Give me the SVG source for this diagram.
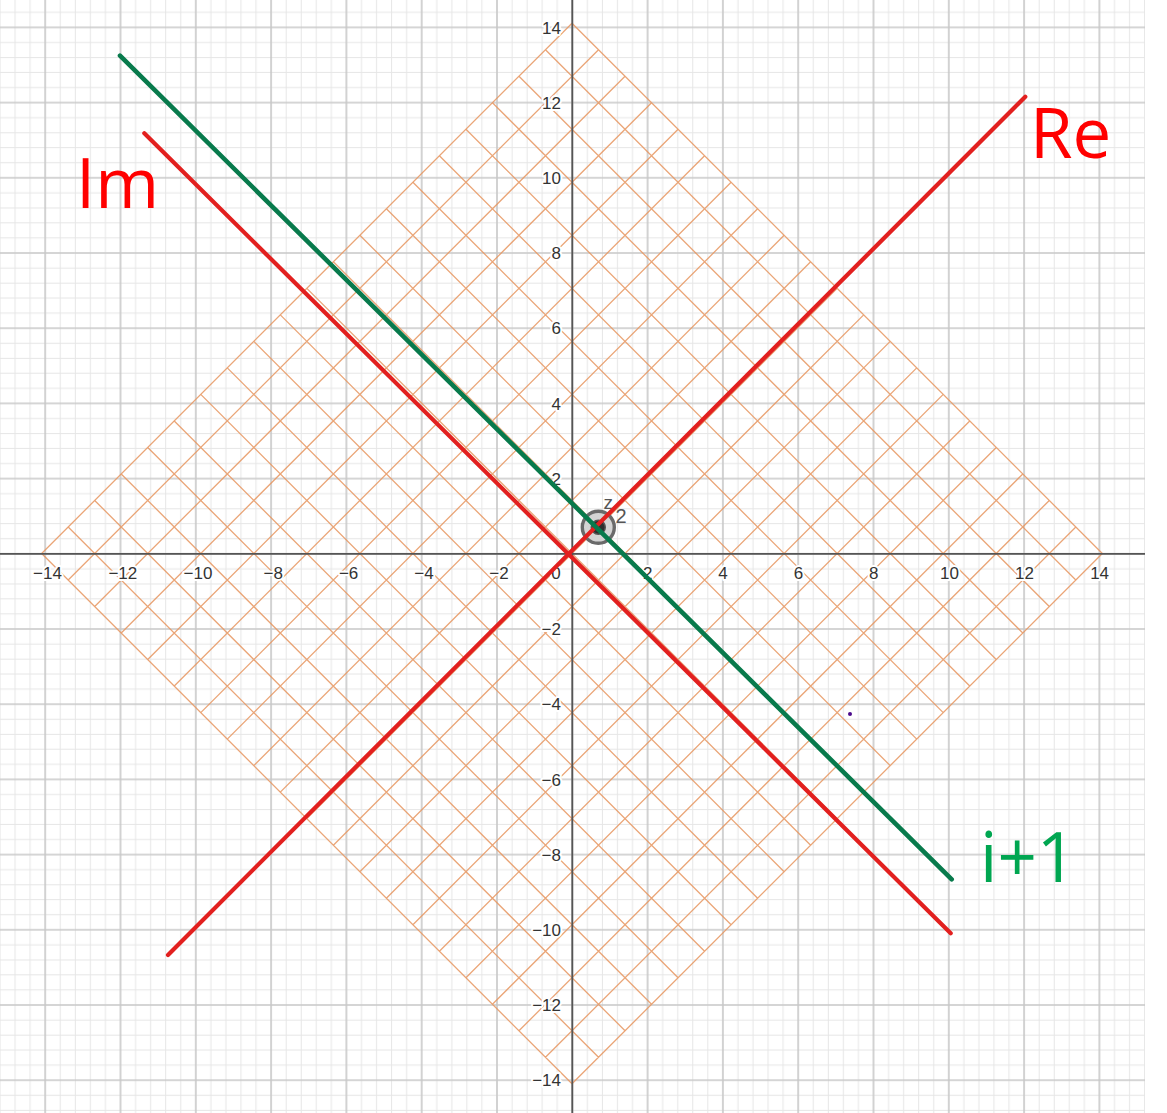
<svg xmlns="http://www.w3.org/2000/svg" width="1167" height="1113" viewBox="0 0 1167 1113">
<style>
.minor{stroke:#e6e6e6;stroke-width:1;fill:none}
.major{stroke:#c8c8c8;stroke-width:1.6;fill:none}
.axis{stroke:#555;stroke-width:1.8;fill:none}
.orange{stroke:#e6955f;stroke-width:1.3;fill:none;opacity:0.85}
.tick{font-family:"Liberation Sans",Arial,sans-serif;font-size:17px;fill:#333;stroke:#fff;stroke-width:4;paint-order:stroke;stroke-linejoin:round}
.tx{text-anchor:middle}
.ty{text-anchor:end}
.red{stroke:#e2201f;stroke-width:4.2;stroke-linecap:round;fill:none}
.green{stroke:#087a4c;stroke-width:4.6;stroke-linecap:round;fill:none}
.big{font-family:"Open Sans","Noto Sans",sans-serif;font-size:69px}
</style>
<defs>
<pattern id="grid" patternUnits="userSpaceOnUse" x="534.65" y="516.2" width="75.3" height="75.2">
<path class="minor" d="M7.53,0V75.2M22.59,0V75.2M52.71,0V75.2M67.77,0V75.2M0,7.52H75.3M0,22.56H75.3M0,52.64H75.3M0,67.68H75.3"/>
<path class="major" d="M37.65,0V75.2M0,37.6H75.3"/>
</pattern>
<clipPath id="plot"><rect x="0" y="0" width="1145" height="1113"/></clipPath>
</defs>
<rect width="1167" height="1113" fill="#fff"/>
<g id="grid-bg" clip-path="url(#plot)">
<rect x="0" y="0" width="1145" height="1113" fill="url(#grid)"/>
</g>
<g id="rotated-grid" transform="translate(572,553.5) rotate(45)">
<path class="orange" d="M-375,-375V375M-337.5,-375V375M-300,-375V375M-262.5,-375V375M-225,-375V375M-187.5,-375V375M-150,-375V375M-112.5,-375V375M-75,-375V375M-37.5,-375V375M0,-375V375M37.5,-375V375M75,-375V375M112.5,-375V375M150,-375V375M187.5,-375V375M225,-375V375M262.5,-375V375M300,-375V375M337.5,-375V375M375,-375V375M-375,-375H375M-375,-337.5H375M-375,-300H375M-375,-262.5H375M-375,-225H375M-375,-187.5H375M-375,-150H375M-375,-112.5H375M-375,-75H375M-375,-37.5H375M-375,0H375M-375,37.5H375M-375,75H375M-375,112.5H375M-375,150H375M-375,187.5H375M-375,225H375M-375,262.5H375M-375,300H375M-375,337.5H375M-375,375H375"/>
</g>
<g id="axes">
<path class="axis" d="M0,553.8H1145M572.3,0V1113"/>
</g>
<g id="x-labels" class="tick tx">
<text x="47.5" y="579">−14</text>
<text x="122.8" y="579">−12</text>
<text x="198" y="579">−10</text>
<text x="273.3" y="579">−8</text>
<text x="348.6" y="579">−6</text>
<text x="423.9" y="579">−4</text>
<text x="499" y="579">−2</text>
<text x="556" y="579">0</text>
<text x="647.8" y="579">2</text>
<text x="723.1" y="579">4</text>
<text x="798.4" y="579">6</text>
<text x="873.7" y="579">8</text>
<text x="949.5" y="579">10</text>
<text x="1024.5" y="579">12</text>
<text x="1099.6" y="579">14</text>
</g>
<g id="y-labels" class="tick ty">
<text x="561" y="33.5">14</text>
<text x="561" y="108.7">12</text>
<text x="561" y="183.9">10</text>
<text x="561" y="259.1">8</text>
<text x="561" y="334.3">6</text>
<text x="561" y="409.5">4</text>
<text x="561" y="484.7">2</text>
<text x="561" y="635.1">−2</text>
<text x="561" y="710.3">−4</text>
<text x="561" y="785.5">−6</text>
<text x="561" y="860.7">−8</text>
<text x="561" y="935.9">−10</text>
<text x="561" y="1011.1">−12</text>
<text x="561" y="1086.3">−14</text>
</g>
<g id="point-z2">
<circle cx="598.3" cy="527.3" r="16" fill="#d4d4d4" stroke="#6a6a6a" stroke-width="3.4"/>
<circle cx="598.3" cy="527.3" r="7" fill="#2e2e2e" stroke="#555" stroke-width="1.5"/>
<text x="603.5" y="509" font-family="Liberation Sans,Arial,sans-serif" font-size="19" fill="#555">z</text>
<text x="615.5" y="523.3" font-family="Liberation Sans,Arial,sans-serif" font-size="20" fill="#555">2</text>
</g>
<g id="point-small">
<circle cx="850" cy="714" r="2" fill="#4b0a8c"/>
</g>
<g id="lines">
<line class="red" x1="168" y1="955" x2="1025.3" y2="96.7"/>
<line class="red" x1="144.3" y1="133.3" x2="950.7" y2="933.3"/>
<line class="green" x1="120" y1="55.7" x2="951.7" y2="879.3"/>
</g>
<g id="labels">
<text class="big" x="1030" y="157.5" fill="#ff0000">Re</text>
<text class="big" x="76" y="208.3" fill="#ff0000">Im</text>
<text class="big" x="980" y="881.7" fill="#00a651">i+1</text>
</g>
</svg>
